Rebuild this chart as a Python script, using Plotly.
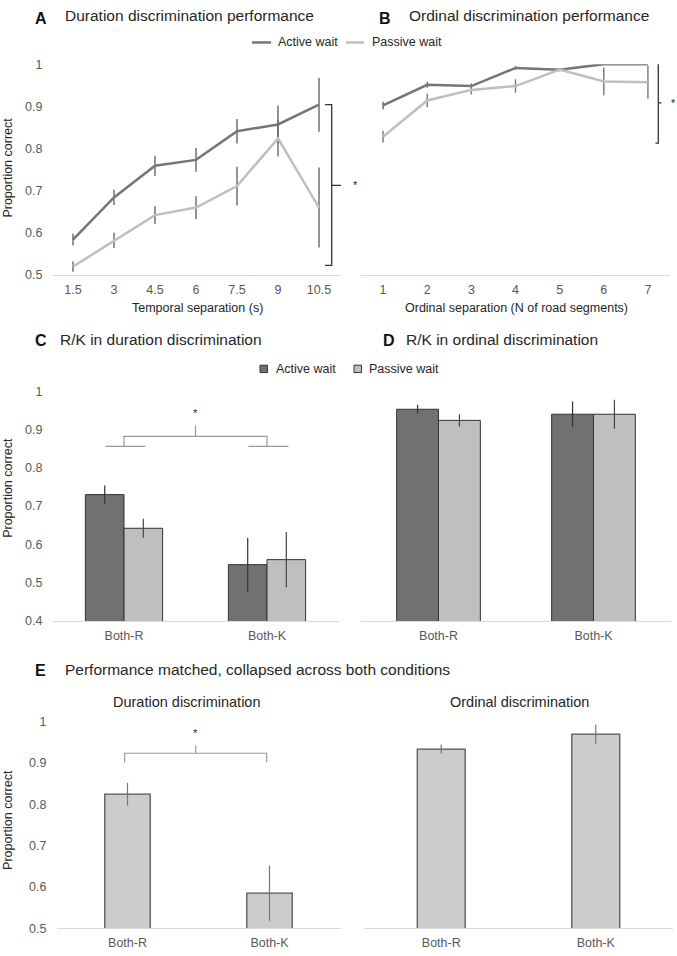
import plotly.graph_objects as go

# ---------------- data ----------------
temporal_sep = ["1.5", "3", "4.5", "6", "7.5", "9", "10.5"]
dur_active = [0.584, 0.684, 0.759, 0.773, 0.841, 0.857, 0.904]
dur_active_err = [0.014, 0.018, 0.024, 0.028, 0.029, 0.045, 0.064]
dur_passive = [0.520, 0.582, 0.642, 0.660, 0.711, 0.824, 0.660]
dur_passive_err = [0.012, 0.018, 0.021, 0.027, 0.046, 0.043, 0.095]

ordinal_sep = ["1", "2", "3", "4", "5", "6", "7"]
ord_active = [0.902, 0.951, 0.948, 0.991, 0.987, 1.0, 1.0]
ord_active_err = [0.009, 0.007, 0.006, 0.004, 0.004, 0.0, 0.0]
ord_passive = [0.828, 0.914, 0.939, 0.948, 0.987, 0.959, 0.957]
ord_passive_err = [0.014, 0.016, 0.011, 0.016, 0.004, 0.033, 0.039]

rk_cats = ["Both-R", "Both-K"]
rk_dur_active = [0.730, 0.547]
rk_dur_active_err = [0.024, 0.070]
rk_dur_passive = [0.642, 0.560]
rk_dur_passive_err = [0.025, 0.072]
rk_ord_active = [0.953, 0.940]
rk_ord_active_err = [0.012, 0.033]
rk_ord_passive = [0.924, 0.940]
rk_ord_passive_err = [0.016, 0.038]

matched_dur = [0.824, 0.585]
matched_dur_err = [0.027, 0.067]
matched_ord = [0.933, 0.969]
matched_ord_err = [0.011, 0.023]

y_ticks_A = [0.5, 0.6, 0.7, 0.8, 0.9, 1.0]
y_ticks_C = [0.4, 0.5, 0.6, 0.7, 0.8, 0.9, 1.0]
y_ticktext_A = ["0.5", "0.6", "0.7", "0.8", "0.9", "1"]
y_ticktext_C = ["0.4", "0.5", "0.6", "0.7", "0.8", "0.9", "1"]

# ---------------- styling ----------------
W, H = 677, 956
FONT = "Liberation Sans, Arial, sans-serif"
C_ACT_LINE = "#767676"
C_PAS_LINE = "#bfbfbf"
C_ACT_BAR = "#717171"
C_PAS_BAR = "#bfbfbf"
C_E_BAR = "#cccccc"
TICK_C = "#595959"
TXT_C = "#262626"
AXLINE = "#d9d9d9"
SMALL = 12.5


def px(x):
    return x / W


def py(y):
    return 1 - y / H


fig = go.Figure()

# Panel A lines
fig.add_trace(go.Scatter(x=temporal_sep, y=dur_active, mode="lines", name="Active wait",
                         line=dict(color=C_ACT_LINE, width=2.5),
                         error_y=dict(type="data", array=dur_active_err, color="#666666",
                                      thickness=1.4, width=0),
                         xaxis="x", yaxis="y", cliponaxis=False, showlegend=False))
fig.add_trace(go.Scatter(x=temporal_sep, y=dur_passive, mode="lines", name="Passive wait",
                         line=dict(color=C_PAS_LINE, width=2.5),
                         error_y=dict(type="data", array=dur_passive_err, color="#666666",
                                      thickness=1.4, width=0),
                         xaxis="x", yaxis="y", cliponaxis=False, showlegend=False))
# Panel B lines
fig.add_trace(go.Scatter(x=ordinal_sep, y=ord_active, mode="lines", name="Active wait",
                         line=dict(color=C_ACT_LINE, width=2.5),
                         error_y=dict(type="data", array=ord_active_err, color="#666666",
                                      thickness=1.4, width=0),
                         xaxis="x2", yaxis="y2", cliponaxis=False, showlegend=False))
fig.add_trace(go.Scatter(x=ordinal_sep, y=ord_passive, mode="lines", name="Passive wait",
                         line=dict(color=C_PAS_LINE, width=2.5),
                         error_y=dict(type="data", array=ord_passive_err, color="#777777",
                                      thickness=1.4, width=0),
                         xaxis="x2", yaxis="y2", cliponaxis=False, showlegend=False))

# Panel C bars
bar_line = dict(color="#333333", width=1)
fig.add_trace(go.Bar(x=rk_cats, y=rk_dur_active, name="Active wait", marker=dict(color=C_ACT_BAR, line=bar_line),
                     error_y=dict(type="data", array=rk_dur_active_err, color="#333333", thickness=1.2, width=0),
                     xaxis="x3", yaxis="y3", showlegend=False, offsetgroup="a"))
fig.add_trace(go.Bar(x=rk_cats, y=rk_dur_passive, name="Passive wait", marker=dict(color=C_PAS_BAR, line=bar_line),
                     error_y=dict(type="data", array=rk_dur_passive_err, color="#444444", thickness=1.2, width=0),
                     xaxis="x3", yaxis="y3", showlegend=False, offsetgroup="p"))
# Panel D bars
fig.add_trace(go.Bar(x=rk_cats, y=rk_ord_active, name="Active wait", marker=dict(color=C_ACT_BAR, line=bar_line),
                     error_y=dict(type="data", array=rk_ord_active_err, color="#333333", thickness=1.2, width=0),
                     xaxis="x4", yaxis="y4", showlegend=False, offsetgroup="a"))
fig.add_trace(go.Bar(x=rk_cats, y=rk_ord_passive, name="Passive wait", marker=dict(color=C_PAS_BAR, line=bar_line),
                     error_y=dict(type="data", array=rk_ord_passive_err, color="#444444", thickness=1.2, width=0),
                     xaxis="x4", yaxis="y4", showlegend=False, offsetgroup="p"))
# Panel E bars
e_line = dict(color="#555555", width=1.3)
fig.add_trace(go.Bar(x=rk_cats, y=matched_dur, name="Duration discrimination",
                     marker=dict(color=C_E_BAR, line=e_line), width=0.32, offset=-0.16,
                     error_y=dict(type="data", array=matched_dur_err, color="#777777", thickness=1.2, width=0),
                     xaxis="x5", yaxis="y5", showlegend=False))
fig.add_trace(go.Bar(x=rk_cats, y=matched_ord, name="Ordinal discrimination",
                     marker=dict(color=C_E_BAR, line=e_line), width=0.31, offset=-0.155,
                     error_y=dict(type="data", array=matched_ord_err, color="#777777", thickness=1.2, width=0),
                     xaxis="x6", yaxis="y6", showlegend=False))


def xax(domain_px, cats):
    return dict(domain=[px(domain_px[0]), px(domain_px[1])], type="category",
                range=[-0.5, len(cats) - 0.5], showline=True, linecolor=AXLINE, linewidth=1,
                showgrid=False, zeroline=False, ticks="", fixedrange=True,
                tickfont=dict(size=SMALL, color=TICK_C, family=FONT), ticklabelstandoff=3)


def yax(domain_py, rng, tv, tt, anchor, show=True):
    return dict(domain=[py(domain_py[1]), py(domain_py[0])], range=rng, showgrid=False,
                zeroline=False, showline=False, ticks="", tickvals=tv, ticktext=tt,
                showticklabels=show, anchor=anchor, fixedrange=True,
                tickfont=dict(size=SMALL, color=TICK_C, family=FONT), ticklabelstandoff=9)


fig.update_layout(
    width=W, height=H, margin=dict(l=0, r=0, t=0, b=0),
    paper_bgcolor="white", plot_bgcolor="white",
    font=dict(family=FONT, color=TXT_C),
    barmode="group", bargap=0.46, bargroupgap=0,
    xaxis=xax((52.5, 339.5), temporal_sep) | dict(anchor="y"),
    yaxis=yax((58, 272), [0.5, 1.0], y_ticks_A, y_ticktext_A, "x"),
    xaxis2=xax((361, 670), ordinal_sep) | dict(anchor="y2"),
    yaxis2=yax((58, 272), [0.5, 1.0], y_ticks_A, y_ticktext_A, "x2", show=False),
    xaxis3=xax((52.5, 338.5), rk_cats) | dict(anchor="y3"),
    yaxis3=yax((390, 623), [0.4, 1.0], y_ticks_C, y_ticktext_C, "x3"),
    xaxis4=xax((361, 671), rk_cats) | dict(anchor="y4"),
    yaxis4=yax((390, 623), [0.4, 1.0], y_ticks_C, y_ticktext_C, "x4", show=False),
    xaxis5=xax((56.5, 340.5), rk_cats) | dict(anchor="y5"),
    yaxis5=yax((725, 935), [0.5, 1.0], y_ticks_A, y_ticktext_A, "x5"),
    xaxis6=xax((364, 673), rk_cats) | dict(anchor="y6"),
    yaxis6=yax((725, 935), [0.5, 1.0], y_ticks_A, y_ticktext_A, "x6", show=False),
)

ann = []
shapes = []


def text(x, y, s, size=12, color=TXT_C, bold=False, xanchor="left", textangle=0, xref="paper", yref="paper"):
    ann.append(dict(x=x, y=y, xref=xref, yref=yref, text=("<b>%s</b>" % s) if bold else s,
                    showarrow=False, xanchor=xanchor, yanchor="middle", textangle=textangle,
                    font=dict(size=size, color=color, family=FONT)))


# Panel titles
TS = 15.5
text(px(33), py(11.5), "A", 16, "#111111", bold=True)
text(px(63), py(9), "Duration discrimination performance", TS)
text(px(377), py(11.5), "B", 16, "#111111", bold=True)
text(px(407), py(9), "Ordinal discrimination performance", TS)
text(px(33), py(338), "C", 16, "#111111", bold=True)
text(px(58), py(337), "R/K in duration discrimination", TS)
text(px(381), py(338), "D", 16, "#111111", bold=True)
text(px(404), py(337), "R/K in ordinal discrimination", TS)
text(px(33), py(673), "E", 16, "#111111", bold=True)
text(px(63), py(672), "Performance matched, collapsed across both conditions", TS)
text(px(186), py(705), "Duration discrimination", 14.5, xanchor="center")
text(px(519), py(705), "Ordinal discrimination", 14.5, xanchor="center")

# axis titles
text(px(8), py(163), "Proportion correct", SMALL, xanchor="center", textangle=-90)
text(px(8), py(488), "Proportion correct", SMALL, xanchor="center", textangle=-90)
text(px(8), py(825), "Proportion correct", SMALL, xanchor="center", textangle=-90)
text(px(197), py(305), "Temporal separation (s)", SMALL, xanchor="center")
text(px(516), py(305), "Ordinal separation (N of road segments)", SMALL, xanchor="center")

# legends (lines)
shapes.append(dict(type="line", xref="paper", yref="paper", x0=px(252), x1=px(271), y0=py(36), y1=py(36),
                   line=dict(color=C_ACT_LINE, width=2.5)))
text(px(276), py(36), "Active wait", SMALL)
shapes.append(dict(type="line", xref="paper", yref="paper", x0=px(346), x1=px(364), y0=py(36), y1=py(36),
                   line=dict(color=C_PAS_LINE, width=2.5)))
text(px(370), py(36), "Passive wait", SMALL)
# legends (bars)
shapes.append(dict(type="rect", xref="paper", yref="paper", x0=px(260), x1=px(267.5), y0=py(371), y1=py(363.5),
                   fillcolor=C_ACT_BAR, line=dict(color="#333333", width=1)))
text(px(274), py(367), "Active wait", SMALL)
shapes.append(dict(type="rect", xref="paper", yref="paper", x0=px(354), x1=px(361.5), y0=py(371), y1=py(363.5),
                   fillcolor=C_PAS_BAR, line=dict(color="#333333", width=1)))
text(px(367), py(367), "Passive wait", SMALL)

# significance brackets A
BR = dict(color="#333333", width=1.3)
shapes.append(dict(type="path", xref="paper", yref="y",
                   path="M %f,%f H %f V %f H %f" % (px(325), 0.904, px(331.7), 0.523, px(325)), line=BR))
shapes.append(dict(type="line", xref="paper", yref="y", x0=px(331.7), x1=px(341), y0=0.7125, y1=0.7125, line=BR))
text(px(355), 0.7125, "*", 11, xanchor="center", yref="y")
# B
shapes.append(dict(type="path", xref="paper", yref="y2",
                   path="M %f,%f H %f V %f H %f" % (px(655.5), 1.002, px(658.3), 0.8125, px(655.5)), line=BR))
shapes.append(dict(type="line", xref="paper", yref="y2", x0=px(658.3), x1=px(661.5), y0=0.908, y1=0.908, line=BR))
text(px(673), 0.908, "*", 11, xanchor="center", yref="y2")

# C bracket
GB = dict(color="#999999", width=1.2)
shapes.append(dict(type="line", xref="x3", yref="y3", x0=-0.13, x1=0.15, y0=0.856, y1=0.856, line=GB))
shapes.append(dict(type="line", xref="x3", yref="y3", x0=0.87, x1=1.15, y0=0.856, y1=0.856, line=GB))
shapes.append(dict(type="path", xref="x3", yref="y3", path="M 0,0.856 V 0.882 H 1 V 0.856", line=GB))
shapes.append(dict(type="line", xref="x3", yref="y3", x0=0.5, x1=0.5, y0=0.882, y1=0.911, line=GB))
text(0.5, 0.942, "*", 11, xanchor="center", xref="x3", yref="y3")

# E bracket
shapes.append(dict(type="path", xref="x5", yref="y5", path="M -0.02,0.901 V 0.923 H 0.98 V 0.901", line=GB))
shapes.append(dict(type="line", xref="x5", yref="y5", x0=0.48, x1=0.48, y0=0.923, y1=0.942, line=GB))
text(0.48, 0.971, "*", 11, xanchor="center", xref="x5", yref="y5")

fig.update_layout(annotations=ann, shapes=shapes)
fig.write_html("out.html", config={"displayModeBar": False},
               post_script="document.body.style.margin='0';document.body.style.padding='0';")
